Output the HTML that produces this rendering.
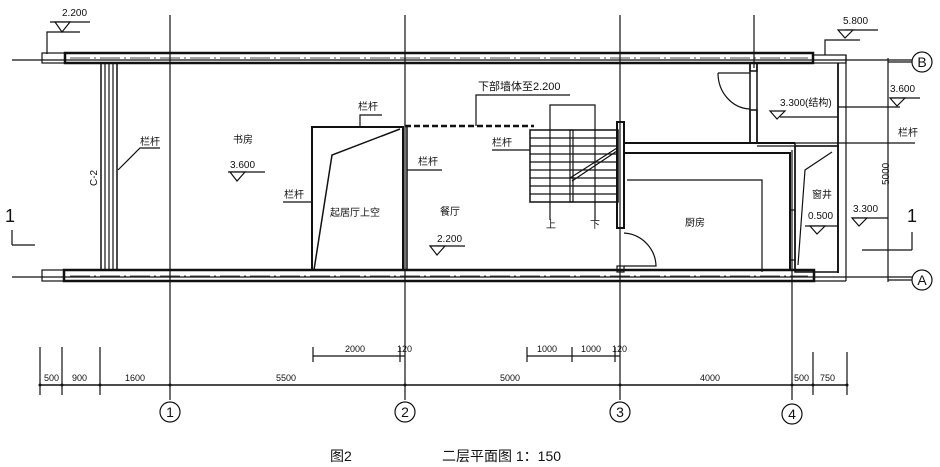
<!DOCTYPE html>
<html><head><meta charset="utf-8"><style>
html,body{margin:0;padding:0;background:#fff;}
svg{display:block}
text{font-family:"Liberation Sans","Noto Sans CJK SC",sans-serif;fill:#111}
</style></head><body>
<svg width="940" height="467" viewBox="0 0 940 467" xmlns="http://www.w3.org/2000/svg">
<g stroke="#111" fill="none" stroke-width="1.2">
<!-- axis lines -->
<line x1="170" y1="15" x2="170" y2="400"/>
<line x1="405" y1="15" x2="405" y2="400"/>
<line x1="620" y1="15" x2="620" y2="400"/>
<line x1="754" y1="15" x2="754" y2="68"/>
<line x1="792" y1="150" x2="792" y2="400"/>
<line x1="12" y1="60" x2="912" y2="60"/>
<line x1="12" y1="277" x2="912" y2="277"/>
<!-- top wall -->
<rect x="42" y="53" width="23" height="10"/>
<rect x="65" y="53" width="748" height="10" stroke-width="2.5"/>
<line x1="70" y1="58" x2="808" y2="58" stroke-dasharray="20,4,2,4" stroke-width="0.8"/>
<rect x="813" y="55" width="33" height="8"/>
<!-- bottom wall -->
<rect x="42" y="270" width="22" height="11"/>
<rect x="64" y="270" width="750" height="11" stroke-width="2.5"/>
<line x1="70" y1="276" x2="808" y2="276" stroke-dasharray="20,4,2,4" stroke-width="0.8"/>
<!-- right box -->
<line x1="846" y1="55" x2="846" y2="281"/>
<line x1="838" y1="63" x2="838" y2="273" stroke-width="1.8"/>
<line x1="814" y1="281" x2="846" y2="281"/>
<!-- railing C-2 -->
<rect x="101" y="63" width="16" height="207" stroke-width="1.5"/>
<line x1="105" y1="63" x2="105" y2="270"/>
<line x1="109" y1="63" x2="109" y2="270"/>
<line x1="113" y1="63" x2="113" y2="270"/>
<!-- void -->
<polyline points="312,270 312,127 403,127 403,270" stroke-width="2"/>
<polyline points="314,270 332,155 400,129" stroke-width="1.5"/>
<line x1="407" y1="127" x2="407" y2="270" stroke-width="1.5"/>
<line x1="405" y1="126" x2="534" y2="126" stroke-dasharray="6,3" stroke-width="2.5"/>
<!-- stairs -->
<rect x="530" y="130" width="88" height="72" stroke-width="1.5"/>
<line x1="530" y1="138" x2="617" y2="138"/><line x1="530" y1="146" x2="617" y2="146"/>
<line x1="530" y1="154" x2="617" y2="154"/><line x1="530" y1="162" x2="617" y2="162"/>
<line x1="530" y1="170" x2="617" y2="170"/><line x1="530" y1="178" x2="617" y2="178"/>
<line x1="530" y1="186" x2="617" y2="186"/><line x1="530" y1="194" x2="617" y2="194"/>
<rect x="570" y="130" width="3" height="72"/>
<polyline points="550,220 550,105 595,105 595,220"/>
<line x1="570" y1="178" x2="617" y2="148"/><line x1="572" y1="181" x2="617" y2="151"/>
<rect x="617" y="122" width="7" height="106" stroke-width="2"/>
<!-- kitchen walls -->
<path d="M624,143 H795 M624,153 H790 V270" stroke-width="2"/>
<path d="M795,143 V270 M750,63 V143 M757,63 V143" stroke-width="1.5"/>
<rect x="750" y="63" width="7" height="8" stroke-width="1.5"/>
<rect x="750" y="110" width="7" height="33" stroke-width="1.5"/>
<path d="M757,143 H838 M757,146 H838"/>
<path d="M627,180 H762 V272"/>
<path d="M718,73 H750 M718,73 A33,36 0 0 0 750,109"/>
<path d="M624,233 A34,34 0 0 1 656,266 H624"/>
<rect x="617" y="266" width="7" height="6"/>
<!-- well -->
<rect x="795" y="146" width="43" height="126" stroke-width="1.5"/>
<rect x="790" y="210" width="5" height="50"/>
<polyline points="798,265 805,170 832,152"/>
<!-- dimension vertical right -->
<line x1="888" y1="58" x2="888" y2="282"/>
<line x1="862" y1="250" x2="888" y2="250"/>
<line x1="912" y1="232" x2="912" y2="250"/><line x1="888" y1="250" x2="912" y2="250"/>
<line x1="12" y1="230" x2="12" y2="245"/><line x1="12" y1="245" x2="35" y2="245"/>
<!-- leaders -->
<polyline points="47,54 47,32 80,32"/>
<line x1="50" y1="22" x2="90" y2="22"/>
<polyline points="825,55 825,40 860,40"/>
<line x1="845" y1="30" x2="878" y2="30"/>
<polyline points="118,170 140,148 160,148"/>
<polyline points="283,202 312,202"/>
<polyline points="360,127 360,115 382,115"/>
<polyline points="407,170 432,170 442,170"/>
<polyline points="476,126 476,95 570,95"/>
<polyline points="492,150 530,150"/>
<polyline points="838,107 900,107"/>
<polyline points="838,143 915,143"/>
<line x1="890" y1="98" x2="920" y2="98"/>
<line x1="228" y1="172" x2="265" y2="172"/>
<line x1="430" y1="246" x2="465" y2="246"/>
<line x1="780" y1="117" x2="838" y2="117"/>
<line x1="805" y1="226" x2="838" y2="226"/>
<line x1="852" y1="218" x2="888" y2="218"/>
<!-- triangles -->
<path d="M55,22 L70,22 L62,32 Z M230,172 L245,172 L237,181 Z M430,246 L445,246 L437,255 Z M838,30 L853,30 L845,38 Z M890,98 L905,98 L897,106 Z M770,111 L785,111 L777,119 Z M810,226 L825,226 L817,234 Z M852,218 L867,218 L859,226 Z" fill="#fff"/>
<!-- circles -->
<circle cx="922" cy="62" r="10"/><circle cx="922" cy="280" r="10"/>
<line x1="888" y1="62" x2="912" y2="62"/><line x1="888" y1="280" x2="912" y2="280"/>
<circle cx="170" cy="412" r="10"/><circle cx="405" cy="412" r="10"/>
<circle cx="620" cy="412" r="10"/><circle cx="792" cy="414" r="10"/>
<!-- dimensions -->
<line x1="40" y1="385" x2="848" y2="385" stroke-width="1.5"/>
<line x1="40" y1="347" x2="40" y2="395"/><line x1="62" y1="347" x2="62" y2="395"/>
<line x1="100" y1="347" x2="100" y2="395"/><line x1="813" y1="352" x2="813" y2="395"/>
<line x1="847" y1="352" x2="847" y2="395"/>
<line x1="313" y1="347" x2="313" y2="362"/><line x1="313" y1="356" x2="405" y2="356"/>
<line x1="400" y1="347" x2="400" y2="362"/>
<line x1="527" y1="347" x2="527" y2="362"/><line x1="527" y1="356" x2="620" y2="356"/>
<line x1="572" y1="347" x2="572" y2="362"/><line x1="615" y1="347" x2="615" y2="362"/>
</g>
<g fill="#111">
<circle cx="40" cy="385" r="1.5"/><circle cx="62" cy="385" r="1.5"/><circle cx="100" cy="385" r="1.5"/>
<circle cx="170" cy="385" r="1.5"/><circle cx="405" cy="385" r="1.5"/><circle cx="620" cy="385" r="1.5"/>
<circle cx="792" cy="385" r="1.5"/><circle cx="813" cy="385" r="1.5"/><circle cx="847" cy="385" r="1.5"/>
</g>
<g font-size="10">
<text x="62" y="16">2.200</text>
<text x="843" y="24">5.800</text>
<text x="890" y="92">3.600</text>
<text x="853" y="212">3.300</text>
<text x="780" y="106">3.300(结构)</text>
<text x="808" y="219">0.500</text>
<text x="230" y="168">3.600</text>
<text x="437" y="242">2.200</text>
<text x="140" y="145">栏杆</text>
<text x="284" y="198">栏杆</text>
<text x="358" y="110">栏杆</text>
<text x="418" y="165">栏杆</text>
<text x="492" y="146">栏杆</text>
<text x="898" y="136">栏杆</text>
<text x="478" y="90" font-size="11">下部墙体至2.200</text>
<text x="233" y="143">书房</text>
<text x="330" y="216">起居厅上空</text>
<text x="440" y="215">餐厅</text>
<text x="685" y="226">厨房</text>
<text x="812" y="198">窗井</text>
<text x="546" y="228">上</text><text x="590" y="228">下</text>
<text x="86" y="185" transform="rotate(-90 92 180)">C-2</text>
<text x="880" y="194" transform="rotate(-90 880 185)">5000</text>
<text x="44" y="381" font-size="9">500</text><text x="72" y="381" font-size="9">900</text>
<text x="125" y="381" font-size="9">1600</text><text x="276" y="381" font-size="9">5500</text>
<text x="500" y="381" font-size="9">5000</text><text x="700" y="381" font-size="9">4000</text>
<text x="794" y="381" font-size="9">500</text><text x="820" y="381" font-size="9">750</text>
<text x="345" y="352" font-size="9">2000</text><text x="397" y="352" font-size="9">120</text>
<text x="537" y="352" font-size="9">1000</text><text x="581" y="352" font-size="9">1000</text><text x="612" y="352" font-size="9">120</text>
</g>
<g font-size="14" text-anchor="middle">
<text x="922" y="67">B</text><text x="922" y="285">A</text>
<text x="170" y="417">1</text><text x="405" y="417">2</text>
<text x="620" y="417">3</text><text x="792" y="419">4</text>
<text x="10" y="222" font-size="18">1</text><text x="912" y="222" font-size="18">1</text>
</g>
<text x="330" y="461" font-size="14" font-family="Liberation Serif,Noto Serif CJK SC,serif">图2</text>
<text x="442" y="461" font-size="14" font-family="Liberation Serif,Noto Serif CJK SC,serif">二层平面图 1：150</text>
</svg>
</body></html>
